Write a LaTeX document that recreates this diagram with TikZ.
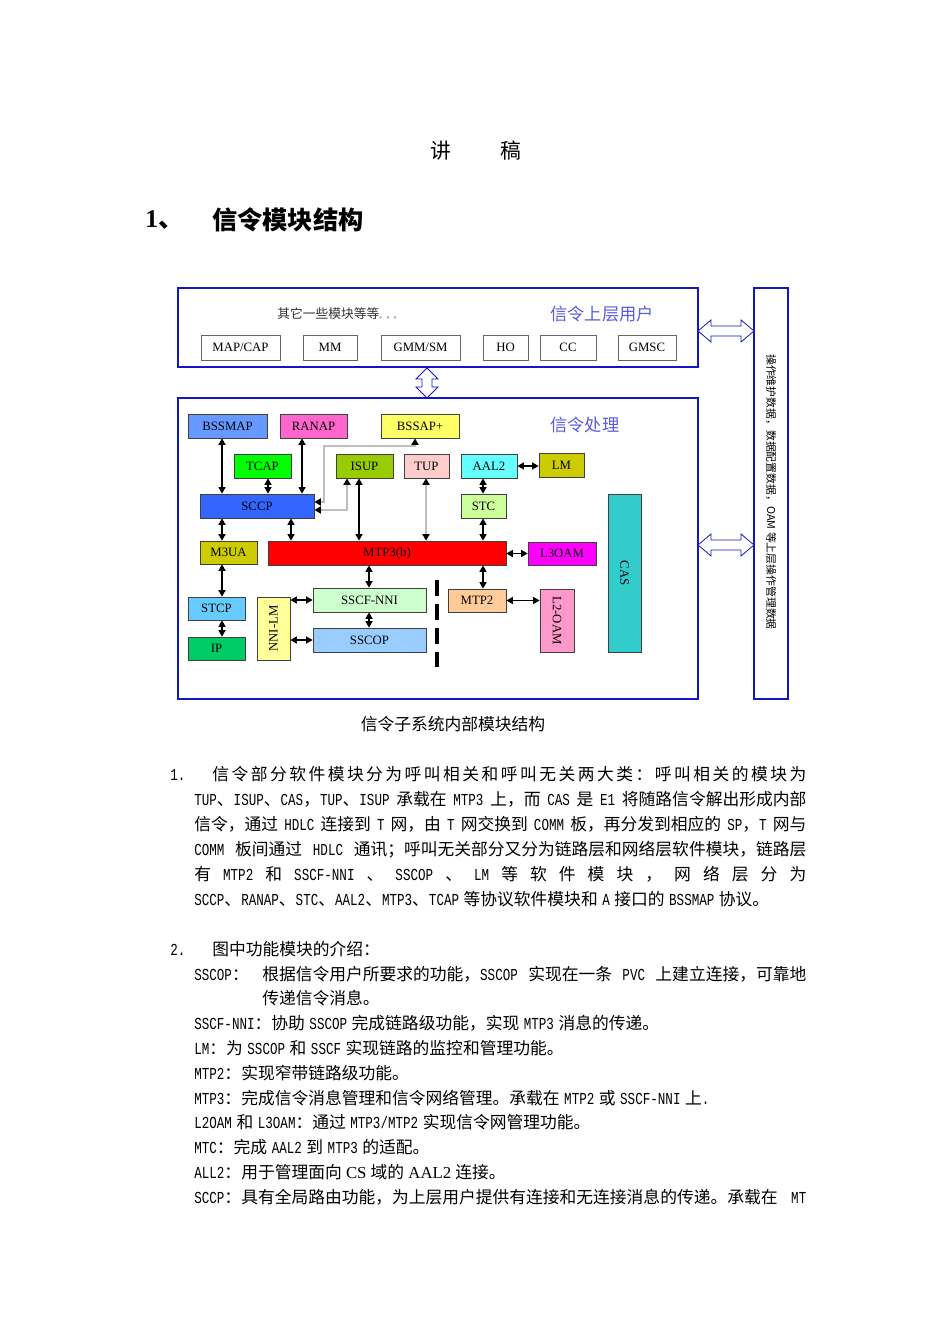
\documentclass[tikz,border=0pt]{standalone}
\usepackage{graphicx}
\usepackage{fontspec}
\setmainfont{Liberation Serif}
\newfontfamily\cjkf{Noto Sans CJK SC}
\newfontfamily\monof{Liberation Mono}[FakeStretch=0.75,WordSpace=0.6]
\usepackage{xcolor}
\usetikzlibrary{arrows.meta}
\definecolor{FrameBlue}{RGB}{20,20,200}
\definecolor{LabelBlue}{RGB}{90,90,225}
\definecolor{LinkGrey}{RGB}{190,190,190}
\definecolor{BssmapBlue}{RGB}{102,153,255}
\definecolor{RanapPink}{RGB}{255,102,204}
\definecolor{BssapYellow}{RGB}{255,255,102}
\definecolor{TcapGreen}{RGB}{0,255,0}
\definecolor{IsupOlive}{RGB}{153,204,0}
\definecolor{TupRose}{RGB}{255,204,204}
\definecolor{AalCyan}{RGB}{102,255,255}
\definecolor{LmOlive}{RGB}{204,204,0}
\definecolor{SccpBlue}{RGB}{51,102,255}
\definecolor{StcGreen}{RGB}{204,255,153}
\definecolor{MtpRed}{RGB}{255,0,0}
\definecolor{OamMagenta}{RGB}{255,0,255}
\definecolor{CasTeal}{RGB}{51,204,204}
\definecolor{StcpSky}{RGB}{102,204,255}
\definecolor{IpGreen}{RGB}{0,204,102}
\definecolor{NniYellow}{RGB}{255,255,153}
\definecolor{SscfMint}{RGB}{204,255,204}
\definecolor{SscopBlue}{RGB}{153,204,255}
\definecolor{MtpOrange}{RGB}{255,204,153}
\definecolor{OamPink}{RGB}{255,153,204}
\newlength\pxu
\setlength\pxu{0.6265pt}
\newcommand\en[1]{{\monof#1}}
\newcommand\gap{\hskip 0.27em plus 1fil\relax}
\makeatletter
\def\spreadtext#1{\@spreadA#1\@nil}
\def\@spreadA#1{#1\@spreadB}
\def\@spreadB#1{\ifx#1\@nil\else\hfil#1\expandafter\@spreadB\fi}
\makeatother
\tikzset{
  frame/.style={draw=FrameBlue, line width=1.4pt},
  wh/.style 2 args={minimum width=#1*0.6265pt, minimum height=#2*0.6265pt},
  mod/.style={draw=black!75, line width=0.5pt, inner sep=0pt, font=\fontsize{8}{9}\selectfont},
  topmod/.style={mod, draw=black!60, fill=white},
  link/.style={arrows={Triangle[length=4pt,width=4.4pt,color=black]-Triangle[length=4pt,width=4.4pt,color=black]}, line width=0.7pt},
  glink/.style={link, draw=LinkGrey, line width=1pt},
  hollow/.style={draw=FrameBlue, line width=0.5pt, fill=white},
  body/.style={anchor=base west, inner sep=0pt, font=\cjkf\fontsize{10.5}{12}\selectfont}
}
\begin{document}
\begin{tikzpicture}[x=0.6265pt,y=-0.6265pt]
  \useasboundingbox (0,0) rectangle (950,1344);
  \fill[white] (0,0) rectangle (950,1344);
  % Title and heading
  \node[font=\cjkf\fontsize{13}{15}\selectfont] (title) at (476,151) {讲\hspace{50\pxu}稿};
  \node[anchor=west, inner sep=0pt, font=\fontsize{16}{18}\selectfont\bfseries] (headnum) at (145,220) {1{\cjkf 、}};
  \node[anchor=west, inner sep=0pt, font=\cjkf\fontsize{15.8}{18}\selectfont\bfseries] (head) at (212,220) {信令模块结构};
  % Upper layer users frame
  \node[frame, wh={520}{79}] (upper) at (438,327.5) {};
  \node[anchor=west, inner sep=0pt, text=black!80, font=\cjkf\fontsize{8}{9}\selectfont] (others) at (277,314) {其它一些模块等等{\fontsize{4.5}{5}\selectfont 。。。}};
  \node[anchor=west, inner sep=0pt, text=LabelBlue, font=\cjkf\fontsize{10.8}{12}\selectfont] (usertitle) at (550,314) {信令上层用户};
  \node[topmod, wh={79}{25}] (mapcap) at (240.5,347.5) {MAP/CAP};
  \node[topmod, wh={54}{25}] (mm) at (330,347.5) {MM};
  \node[topmod, wh={79}{25}] (gmmsm) at (420.5,347.5) {GMM/SM};
  \node[topmod, wh={45}{25}] (ho) at (505.5,347.5) {HO};
  \node[topmod, wh={56}{25}] (cc) at (568,347.5) {CC};
  \node[topmod, wh={58}{25}] (gmsc) at (647,347.5) {GMSC};
  % Signalling processing frame
  \node[frame, wh={520}{301}] (proc) at (438,548.5) {};
  \node[anchor=west, inner sep=0pt, text=LabelBlue, font=\cjkf\fontsize{10.8}{12}\selectfont] (proctitle) at (550,425) {信令处理};
  % OAM frame
  \node[frame, wh={34}{411}] (oam) at (771,493.5) {};
  \node[rotate=-90, inner sep=0pt, font=\cjkf\fontsize{6.8}{8}\selectfont] (oamtext) at (771,492) {操作维护数据，数据配置数据，OAM 等上层操作管理数据};
  % Hollow arrows between frames
  \foreach \yy in {331,545}
    \draw[hollow] (698,\yy) -- (711,{\yy-11}) -- (711,{\yy-5}) -- (741,{\yy-5}) -- (741,{\yy-11})
      -- (754,\yy) -- (741,{\yy+11}) -- (741,{\yy+5}) -- (711,{\yy+5}) -- (711,{\yy+11}) -- cycle;
  \draw[hollow] (427,368) -- (438,379) -- (432,379) -- (432,387) -- (438,387) -- (427,398)
    -- (416,387) -- (422,387) -- (422,379) -- (416,379) -- cycle;
  % Modules
  \node[mod, fill=BssmapBlue, wh={79}{24}] (bssmap) at (227.5,426) {BSSMAP};
  \node[mod, fill=RanapPink, wh={67}{24}] (ranap) at (313.5,426) {RANAP};
  \node[mod, fill=BssapYellow, wh={78}{24}] (bssap) at (420,426) {BSSAP+};
  \node[mod, fill=TcapGreen, wh={57}{24}] (tcap) at (262.5,466) {TCAP};
  \node[mod, fill=IsupOlive, wh={57}{24}] (isup) at (364.5,466) {ISUP};
  \node[mod, fill=TupRose, wh={45}{24}] (tup) at (426.5,466) {TUP};
  \node[mod, fill=AalCyan, wh={56}{24}] (aal2) at (489,466) {AAL2};
  \node[mod, fill=LmOlive, wh={45}{24}] (lm) at (561.5,465.5) {LM};
  \node[mod, fill=SccpBlue, wh={114}{24}] (sccp) at (257,506) {SCCP};
  \node[mod, fill=StcGreen, wh={45}{24}] (stc) at (483.5,506) {STC};
  \node[mod, fill=LmOlive, wh={57}{23}] (m3ua) at (228.5,552.5) {M3UA};
  \node[mod, fill=MtpRed, wh={238}{24}] (mtp3) at (387,553) {MTP3(b)};
  \node[mod, fill=OamMagenta, wh={68}{23}] (l3oam) at (562,553.5) {L3OAM};
  \node[mod, fill=CasTeal, wh={33}{158}] (cas) at (624.5,573) {\rotatebox{-90}{CAS}};
  \node[mod, fill=StcpSky, wh={57}{23}] (stcp) at (216.5,608.5) {STCP};
  \node[mod, fill=IpGreen, wh={57}{23}] (ip) at (216.5,648.5) {IP};
  \node[mod, fill=NniYellow, wh={33}{63}] (nnilm) at (273.5,628.5) {\rotatebox{90}{NNI-LM}};
  \node[mod, fill=SscfMint, wh={113}{24}] (sscf) at (369.5,600) {SSCF-NNI};
  \node[mod, fill=SscopBlue, wh={113}{24}] (sscop) at (369.5,640) {SSCOP};
  \node[mod, fill=MtpOrange, wh={58}{23}] (mtp2) at (477,600.5) {MTP2};
  \node[mod, fill=OamPink, wh={34}{63}] (l2oam) at (557,620.5) {\rotatebox{-90}{L2-OAM}};
  \draw[line width=2pt, dash pattern=on 10pt off 5pt] (437,580) -- (437,667);
  % Link columns and rows
  \coordinate (xa) at (222,0);
  \coordinate (xb) at (268,0);
  \coordinate (xc) at (302,0);
  \coordinate (xd) at (291,0);
  \coordinate (xe) at (347,0);
  \coordinate (xf) at (359,0);
  \coordinate (xg) at (426,0);
  \coordinate (xh) at (483,0);
  \coordinate (xi) at (369,0);
  \coordinate (xj) at (415,0);
  \coordinate (xk) at (324,0);
  \coordinate (ya) at (0,446);
  \coordinate (yb) at (0,502);
  \coordinate (yc) at (0,510);
  % Links
  \draw[link] (bssmap.south -| xa) -- (sccp.north -| xa);
  \draw[link] (tcap.south -| xb) -- (sccp.north -| xb);
  \draw[link] (ranap.south -| xc) -- (sccp.north -| xc);
  \draw[glink] (bssap.south -| xj) -- (xj |- ya) -- (xk |- ya) -- (xk |- yb) -- (sccp.east |- yb);
  \draw[glink] (isup.south -| xe) -- (xe |- yc) -- (sccp.east |- yc);
  \draw[link] (isup.south -| xf) -- (mtp3.north -| xf);
  \draw[glink] (tup.south -| xg) -- (mtp3.north -| xg);
  \draw[link] (aal2.south -| xh) -- (stc.north -| xh);
  \draw[link] (aal2.east) -- (aal2.east -| lm.west);
  \draw[link] (stc.south -| xh) -- (mtp3.north -| xh);
  \draw[link] (sccp.south -| xa) -- (m3ua.north -| xa);
  \draw[link] (sccp.south -| xd) -- (mtp3.north -| xd);
  \draw[link] (m3ua.south -| xa) -- (stcp.north -| xa);
  \draw[link] (stcp.south -| xa) -- (ip.north -| xa);
  \draw[link] (mtp3.south -| xi) -- (sscf.north -| xi);
  \draw[link] (sscf.south -| xi) -- (sscop.north -| xi);
  \draw[link] (sscf.west -| nnilm.east) -- (sscf.west);
  \draw[link] (sscop.west -| nnilm.east) -- (sscop.west);
  \draw[link] (mtp3.south -| xh) -- (mtp2.north -| xh);
  \draw[link] (mtp3.east |- l3oam.west) -- (l3oam.west);
  \draw[link] (mtp2.east) -- (mtp2.east -| l2oam.west);
  % Caption
  \node[font=\cjkf\fontsize{10.5}{12}\selectfont] (caption) at (453,724) {信令子系统内部模块结构};
  % Paragraph 1
  \node[body] (pa0) at (170,780) {\en{1.}};
  \node[body] (pa1) at (212,780) {\hbox to 594\pxu{\spreadtext{信令部分软件模块分为呼叫相关和呼叫无关两大类：呼叫相关的模块为}}};
  \node[body] (pa2) at (194,805) {\hbox to 612\pxu{\en{TUP}、\en{ISUP}、\en{CAS}，\en{TUP}、\en{ISUP}\gap 承载在\gap\en{MTP3}\gap 上，而\gap\en{CAS}\gap 是\gap\en{E1}\gap 将随路信令解出形成内部}};
  \node[body] (pa3) at (194,830) {\hbox to 612\pxu{信令，通过\gap\en{HDLC}\gap 连接到\gap\en{T}\gap 网，由\gap\en{T}\gap 网交换到\gap\en{COMM}\gap 板，再分发到相应的\gap\en{SP}，\en{T}\gap 网与}};
  \node[body] (pa4) at (194,855) {\hbox to 612\pxu{\en{COMM}\gap 板间通过\gap\en{HDLC}\gap 通讯；呼叫无关部分又分为链路层和网络层软件模块，链路层}};
  \node[body] (pa5) at (194,880) {\hbox to 612\pxu{有\hfil\en{MTP2}\hfil 和\hfil\en{SSCF-NNI}\hfil 、\hfil\en{SSCOP}\hfil 、\hfil\en{LM}\hfil 等\hfil 软\hfil 件\hfil 模\hfil 块\hfil ，\hfil 网\hfil 络\hfil 层\hfil 分\hfil 为}};
  \node[body] (pa6) at (194,905) {\en{SCCP}、\en{RANAP}、\en{STC}、\en{AAL2}、\en{MTP3}、\en{TCAP }等协议软件模块和\en{ A }接口的\en{ BSSMAP }协议。};
  % Paragraph 2
  \node[body] (pb0) at (170,955) {\en{2.}};
  \node[body] (pb1) at (212,955) {图中功能模块的介绍：};
  \node[body] (pb2) at (194,980) {\en{SSCOP}：};
  \node[body] (pb3) at (262,980) {\hbox to 544\pxu{根据信令用户所要求的功能，\en{SSCOP}\gap 实现在一条\gap\en{PVC}\gap 上建立连接，可靠地}};
  \node[body] (pb4) at (262,1004) {传递信令消息。};
  \node[body] (pb5) at (194,1029) {\en{SSCF-NNI}：协助\en{ SSCOP }完成链路级功能，实现\en{ MTP3 }消息的传递。};
  \node[body] (pb6) at (194,1054) {\en{LM}：为\en{ SSCOP }和\en{ SSCF }实现链路的监控和管理功能。};
  \node[body] (pb7) at (194,1079) {\en{MTP2}：实现窄带链路级功能。};
  \node[body] (pb8) at (194,1104) {\en{MTP3}：完成信令消息管理和信令网络管理。承载在\en{ MTP2 }或\en{ SSCF-NNI }上\en{.}};
  \node[body] (pb9) at (194,1128) {\en{L2OAM }和\en{ L3OAM}：通过\en{ MTP3/MTP2 }实现信令网管理功能。};
  \node[body] (pb10) at (194,1153) {\en{MTC}：完成\en{ AAL2 }到\en{ MTP3 }的适配。};
  \node[body] (pb11) at (194,1178) {\en{ALL2}：用于管理面向{\rmfamily\ CS\ }域的{\rmfamily\ AAL2\ }连接。};
  \node[body] (pb12) at (194,1203) {\hbox to 612\pxu{\en{SCCP}：具有全局路由功能，为上层用户提供有连接和无连接消息的传递。承载在\gap\en{MT}}};
\end{tikzpicture}
\end{document}
